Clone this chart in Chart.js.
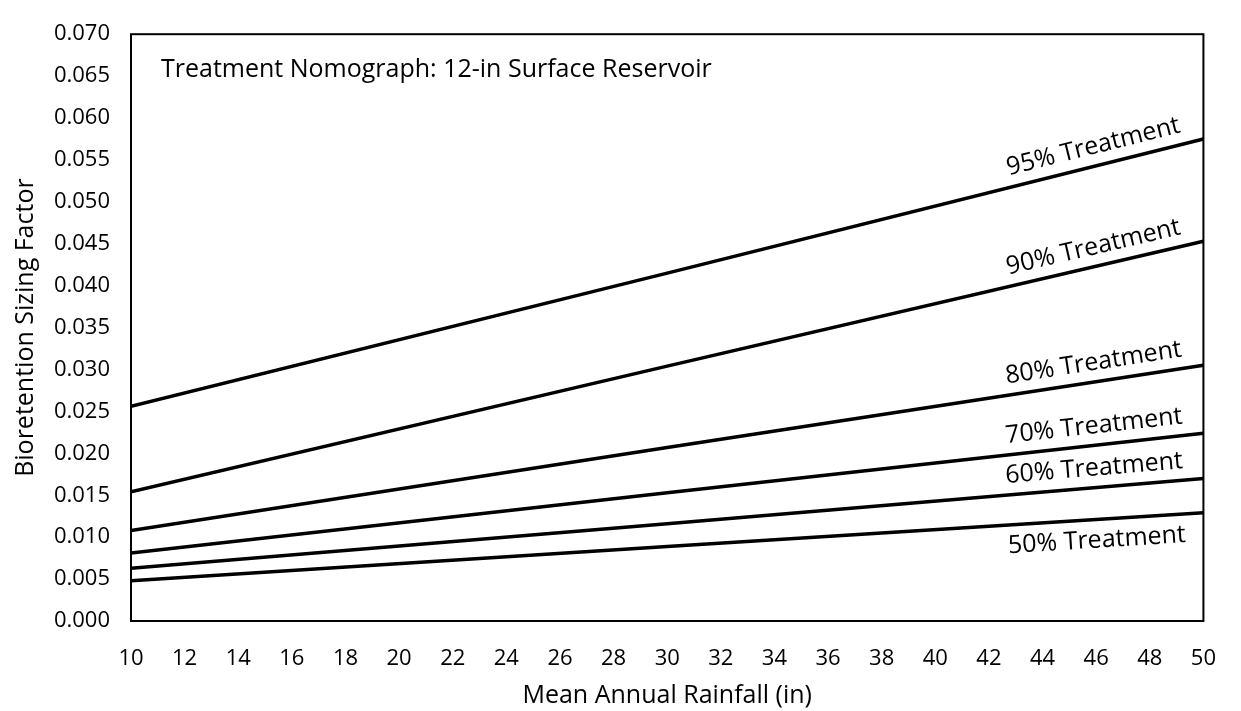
<!DOCTYPE html>
<html>
<head>
<meta charset="utf-8">
<script src="https://cdn.jsdelivr.net/npm/chart.js@4/dist/chart.umd.min.js"></script>
<style>
  html, body { margin: 0; padding: 0; background: #fff; }
  #wrap { width: 1241px; height: 711px; }
</style>
</head>
<body>
<div id="wrap"><canvas id="chart" width="1241" height="711"></canvas></div>
<script>
const rainfall = [10, 30, 50];
const t95 = [0.0256, 0.0415, 0.0575];
const t90 = [0.0154, 0.0304, 0.0453];
const t80 = [0.0108, 0.0207, 0.0305];
const t70 = [0.0081, 0.0153, 0.0224];
const t60 = [0.0063, 0.0116, 0.0170];
const t50 = [0.0048, 0.0089, 0.0129];
const seriesNames = ['95% Treatment', '90% Treatment', '80% Treatment', '70% Treatment', '60% Treatment', '50% Treatment'];
const seriesValues = [t95, t90, t80, t70, t60, t50];
const chartTitle = 'Treatment Nomograph: 12-in Surface Reservoir';

const FONT = "'Open Sans', 'Noto Sans', sans-serif";

const datasets = seriesNames.map((name, i) => ({
  label: name,
  data: rainfall.map((x, j) => ({ x, y: seriesValues[i][j] })),
  borderColor: '#000',
  borderWidth: 3.5,
  pointRadius: 0,
  tension: 0,
  fill: false
}));

// box around plot, title inside, labels along lines
const decorPlugin = {
  id: 'decor',
  beforeDatasetsDraw(chart) {
    const { ctx, chartArea: a } = chart;
    ctx.save();
    ctx.strokeStyle = '#000';
    ctx.lineWidth = 2;
    ctx.strokeRect(a.left, a.top, a.right - a.left, a.bottom - a.top);
    ctx.restore();
  },
  afterDatasetsDraw(chart) {
    const { ctx, chartArea: a } = chart;
    ctx.save();
    ctx.fillStyle = '#000';
    ctx.font = '25px ' + FONT;
    ctx.textBaseline = 'alphabetic';
    ctx.textAlign = 'left';
    ctx.fillText(chartTitle, a.left + 30, a.top + 43);

    chart.data.datasets.forEach((ds, i) => {
      const meta = chart.getDatasetMeta(i);
      const p0 = meta.data[0], p1 = meta.data[meta.data.length - 1];
      const ang = Math.atan2(p1.y - p0.y, p1.x - p0.x);
      const px = a.right - 19;
      const py = p0.y + (p1.y - p0.y) * (px - p0.x) / (p1.x - p0.x);
      const below = i === seriesNames.length - 1;
      ctx.save();
      ctx.translate(px, py);
      ctx.rotate(ang);
      ctx.textAlign = 'right';
      ctx.textBaseline = 'alphabetic';
      ctx.font = '25px ' + FONT;
      ctx.fillText(ds.label, 0, below ? 28 : -12);
      ctx.restore();
    });
    ctx.restore();
  }
};

new Chart(document.getElementById('chart'), {
  type: 'line',
  data: { datasets },
  plugins: [decorPlugin],
  options: {
    responsive: false,
    animation: false,
    layout: { padding: { left: 0, top: 23, right: 13, bottom: 0 } },
    plugins: { legend: { display: false }, tooltip: { enabled: false } },
    scales: {
      x: {
        type: 'linear',
        min: 10, max: 50,
        grid: { display: false, drawTicks: false },
        border: { display: false },
        ticks: { stepSize: 2, padding: 25, color: '#000', font: { family: FONT, size: 22 } },
        title: { display: true, text: 'Mean Annual Rainfall (in)', color: '#000', font: { family: FONT, size: 25 }, padding: { top: 0, bottom: 0 } },
        afterFit(scale) { scale.height = 90; }
      },
      y: {
        min: 0, max: 0.07,
        grid: { display: false, drawTicks: false },
        border: { display: false },
        ticks: { stepSize: 0.005, padding: 21, color: '#000', font: { family: FONT, size: 22 },
          callback: v => v.toFixed(3) },
        title: { display: true, text: 'Bioretention Sizing Factor', color: '#000', font: { family: FONT, size: 25 }, padding: { top: 11, bottom: 0 } },
        afterFit(scale) { scale.width = 131; }
      }
    }
  }
});
</script>
</body>
</html>
